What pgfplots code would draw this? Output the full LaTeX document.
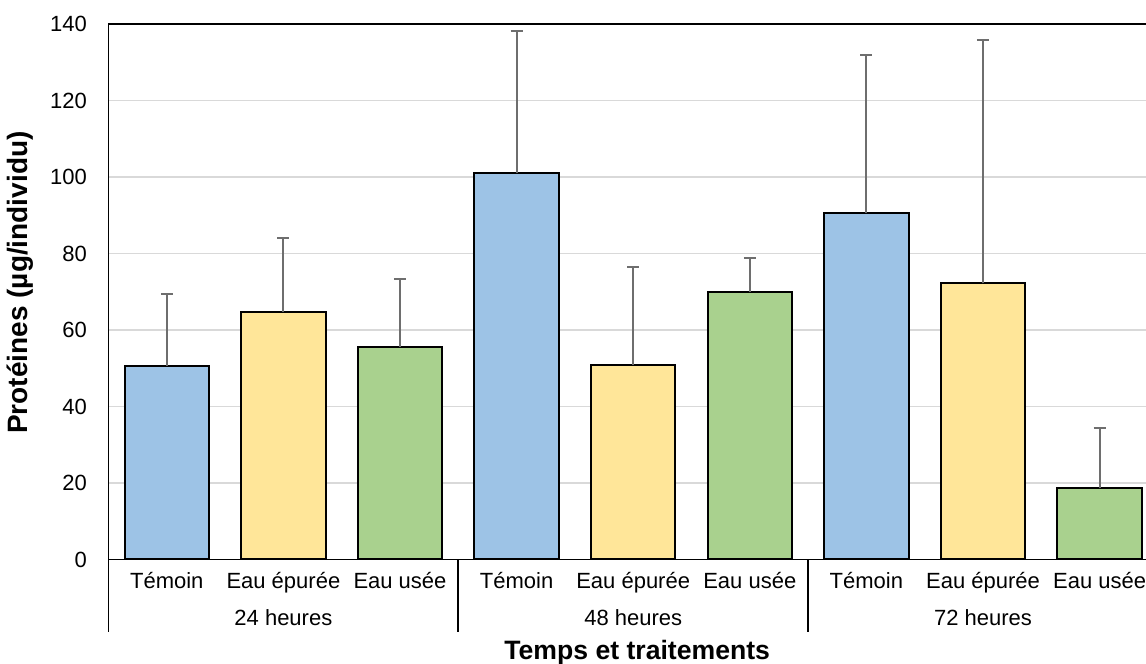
\documentclass[border=0pt]{standalone}
\usepackage{pgfplots}
\pgfplotsset{compat=1.18}
\usepackage{fontspec}
\setmainfont{Liberation Sans}
\definecolor{cblue}{HTML}{9DC3E6}
\definecolor{cyellow}{HTML}{FFE699}
\definecolor{cgreen}{HTML}{A9D18E}
\definecolor{errgray}{HTML}{6E6E6E}
\definecolor{gridgray}{HTML}{D9D9D9}
\pgfplotsset{
  mybar/.style={ybar, bar width=42.2pt, bar shift=0pt, fill=#1, draw=black, line width=1pt,
    error bars/.cd, y dir=plus, y explicit,
    error bar style={draw=errgray, line width=1pt},
    error mark=|,
    error mark options={draw=errgray, line width=1pt, mark size=3pt}},
}
\begin{document}
\begin{tikzpicture}
\begin{axis}[name=ax, at={(0,0)}, anchor=south west,
  scale only axis, width=524.7pt, height=267.75pt,
  xmin=-0.5, xmax=8.5, ymin=0, ymax=140,
  ytick={0,20,...,140},
  xtick={0,...,8},
  xticklabels={Témoin, Eau épurée, Eau usée, Témoin, Eau épurée, Eau usée, Témoin, Eau épurée, Eau usée},
  major tick length=0pt,
  ymajorgrids, grid style={draw=gridgray, line width=0.75pt},
  axis line style={line width=0.8pt},
  clip=false,
  tick label style={font=\fontsize{11}{13}\selectfont},
  xticklabel style={anchor=base, yshift=-14.75pt},
  yticklabel style={xshift=-7.3pt},
  /pgf/number format/assume math mode=true,
]
\addplot[mybar=cblue]
  coordinates {(0,50.6) +- (0,18.8) (3,101.0) +- (0,37.2) (6,90.5) +- (0,41.3)};
\addplot[mybar=cyellow]
  coordinates {(1,64.7) +- (0,19.4) (4,50.8) +- (0,25.7) (7,72.2) +- (0,63.6)};
\addplot[mybar=cgreen]
  coordinates {(2,55.5) +- (0,17.8) (5,69.9) +- (0,9.0) (8,18.6) +- (0,15.7)};
\draw[line width=0.8pt] (axis cs:-0.5,0) -- ([yshift=-36pt]axis cs:-0.5,0);
\draw[line width=0.8pt] (axis cs:2.5,0) -- ([yshift=-36pt]axis cs:2.5,0);
\draw[line width=0.8pt] (axis cs:5.5,0) -- ([yshift=-36pt]axis cs:5.5,0);
\draw[line width=0.8pt] (axis cs:8.5,0) -- ([yshift=-36pt]axis cs:8.5,0);
\node[anchor=base, yshift=-32.75pt, font=\fontsize{11}{13}\selectfont] at (axis cs:1,0) {24 heures};
\node[anchor=base, yshift=-32.75pt, font=\fontsize{11}{13}\selectfont] at (axis cs:4,0) {48 heures};
\node[anchor=base, yshift=-32.75pt, font=\fontsize{11}{13}\selectfont] at (axis cs:7,0) {72 heures};
\node[anchor=base, yshift=-50pt, xshift=2pt, font=\fontsize{13.3}{15}\selectfont\bfseries] at (axis cs:4,0) {Temps et traitements};
\node[anchor=center, rotate=90, font=\fontsize{14}{16}\selectfont\bfseries] at ([xshift=-44.25pt]axis cs:-0.5,72.4) {Protéines (µg/individu)};
\end{axis}
\pgfresetboundingbox
\path[use as bounding box] ([xshift=-54.25pt, yshift=-52.25pt]ax.south west) rectangle ([xshift=518.75pt, yshift=279.75pt]ax.south west);
\end{tikzpicture}
\end{document}
